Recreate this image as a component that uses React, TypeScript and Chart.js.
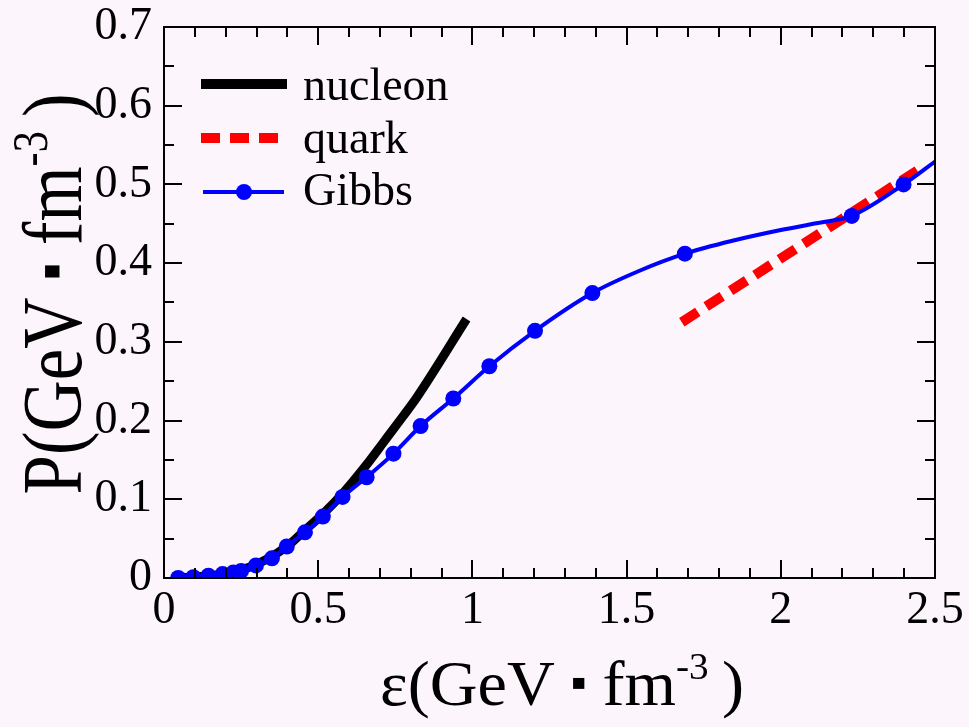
import React, { useEffect, useRef } from "react";
import { Chart, registerables } from "chart.js";

Chart.register(...registerables);

// ---------- data ----------
const nucleonE = [0.04, 0.171, 0.279, 0.398, 0.452, 0.517, 0.581, 0.657, 0.711, 0.776, 0.819, 0.981];
const nucleonP = [0.0, 0.004, 0.014, 0.04, 0.059, 0.082, 0.108, 0.144, 0.172, 0.206, 0.229, 0.329];

const quarkE = [1.679, 2.46];
const quarkP = [0.325, 0.522];

// Gibbs markers
const gibbsMarkE = [0.046, 0.095, 0.144, 0.19, 0.225, 0.25, 0.298, 0.35, 0.398, 0.457, 0.515, 0.579, 0.657, 0.744, 0.832, 0.938, 1.055, 1.203, 1.389, 1.689, 2.23, 2.398];
const gibbsMarkP = [0.0, 0.001, 0.003, 0.005, 0.007, 0.009, 0.016, 0.025, 0.04, 0.058, 0.078, 0.103, 0.128, 0.158, 0.193, 0.228, 0.269, 0.314, 0.362, 0.412, 0.46, 0.5];

const gibbsLineE = [0.046, 0.095, 0.144, 0.19, 0.225, 0.25, 0.298, 0.35, 0.398, 0.457, 0.515, 0.579, 0.657, 0.744, 0.832, 0.938, 1.055, 1.203, 1.389, 1.54, 1.689, 1.85, 2.0, 2.12, 2.23, 2.398, 2.5];
const gibbsLineP = [0.0, 0.001, 0.003, 0.005, 0.007, 0.009, 0.016, 0.025, 0.04, 0.058, 0.078, 0.103, 0.128, 0.158, 0.193, 0.228, 0.269, 0.314, 0.362, 0.39, 0.412, 0.429, 0.442, 0.451, 0.46, 0.5, 0.529];

const xTickValues = [0, 0.5, 1, 1.5, 2, 2.5];
const xTickLabels = ["0", "0.5", "1", "1.5", "2", "2.5"];
const yTickValues = [0, 0.1, 0.2, 0.3, 0.4, 0.5, 0.6, 0.7];
const yTickLabels = ["0", "0.1", "0.2", "0.3", "0.4", "0.5", "0.6", "0.7"];
const xMinorStep = 0.1;
const yMinorStep = 0.05;

const seriesLabels = ["nucleon", "quark", "Gibbs"];
const xTitleParts = { main: "ε(GeV", dot: "▪", unit: "fm", sup: "-3", close: ")" };
const yTitleParts = { main: "P(GeV", dot: "▪", unit: "fm", sup: "-3", close: ")" };

// ---------- styles ----------
const SERIF = '"Liberation Serif", "Times New Roman", Times, serif';
const DOTFONT = '"DejaVu Sans", "Liberation Serif", sans-serif';
const BG = "#fcf5fc";
const BLUE = "#0000ff";
const RED = "#ff0000";

const W = 969;
const H = 727;

function toPoints(xs: number[], ys: number[]) {
  return xs.map((x, i) => ({ x, y: ys[i] }));
}

function drawTitle(
  ctx: CanvasRenderingContext2D,
  parts: { main: string; dot: string; unit: string; sup: string; close: string },
  size: number,
  targetWidth: number
) {
  const f = `${size}px ${SERIF}`;
  const fs = `${Math.round(size * 0.6)}px ${SERIF}`;
  // size the square dot so that it is ~0.17em tall
  ctx.font = `100px ${DOTFONT}`;
  const m100 = ctx.measureText(parts.dot);
  const h100 = Math.max(1, m100.actualBoundingBoxAscent + m100.actualBoundingBoxDescent);
  const dotPx = Math.round((100 * size * 0.17) / h100);
  const fd = `${dotPx}px ${DOTFONT}`;
  ctx.font = fd;
  const md = ctx.measureText(parts.dot);
  const dAsc = md.actualBoundingBoxAscent;
  const dDesc = md.actualBoundingBoxDescent;
  const dLeft = md.actualBoundingBoxLeft;
  const dInkW = md.actualBoundingBoxLeft + md.actualBoundingBoxRight;

  ctx.font = f;
  const wMain = ctx.measureText(parts.main).width;
  const wSp = ctx.measureText(" ").width * 1.1;
  const wUnit = ctx.measureText(parts.unit).width;
  const wClose = ctx.measureText(parts.close).width;
  ctx.font = fs;
  const wSup = ctx.measureText(parts.sup).width;
  const gap = size * 0.2;
  const total = wMain + wSp + dInkW + wSp + wUnit + wSup + gap + wClose;
  const sx = targetWidth / total;
  ctx.scale(sx, 1);
  let x = -total / 2;
  ctx.textAlign = "left";
  ctx.textBaseline = "alphabetic";
  ctx.fillStyle = "#000";
  ctx.font = f;
  ctx.fillText(parts.main, x, 0);
  x += wMain + wSp;
  ctx.font = fd;
  const centerY = -size * 0.34;
  ctx.fillText(parts.dot, x + dLeft, centerY + (dAsc - dDesc) / 2);
  x += dInkW + wSp;
  ctx.font = f;
  ctx.fillText(parts.unit, x, 0);
  x += wUnit;
  ctx.font = fs;
  ctx.fillText(parts.sup, x, -size * 0.4);
  x += wSup + gap;
  ctx.font = f;
  ctx.fillText(parts.close, x, 0);
}

const bgPlugin = {
  id: "bgFill",
  beforeDraw(chart: any) {
    const ctx = chart.ctx;
    ctx.save();
    ctx.fillStyle = BG;
    ctx.fillRect(0, 0, chart.width, chart.height);
    ctx.restore();
  },
};

const framePlugin = {
  id: "frameTicks",
  afterDatasetsDraw(chart: any) {
    const ctx: CanvasRenderingContext2D = chart.ctx;
    const { left, right, top, bottom } = chart.chartArea;
    const xs = chart.scales.x;
    const ys = chart.scales.y;
    ctx.save();
    ctx.strokeStyle = "#000";
    ctx.lineWidth = 2;
    ctx.lineCap = "butt";
    ctx.beginPath();
    ctx.rect(left, top, right - left, bottom - top);
    ctx.stroke();
    const major = 18;
    const minor = 10;
    const nx = Math.round((xs.max - xs.min) / xMinorStep);
    const perMajorX = Math.round(0.5 / xMinorStep);
    ctx.beginPath();
    for (let i = 0; i <= nx; i++) {
      const v = xs.min + i * xMinorStep;
      const px = Math.round(xs.getPixelForValue(v));
      const L = i % perMajorX === 0 ? major : minor;
      ctx.moveTo(px, bottom);
      ctx.lineTo(px, bottom - L);
      ctx.moveTo(px, top);
      ctx.lineTo(px, top + L);
    }
    const ny = Math.round((ys.max - ys.min) / yMinorStep);
    const perMajorY = Math.round(0.1 / yMinorStep);
    for (let i = 0; i <= ny; i++) {
      const v = ys.min + i * yMinorStep;
      const py = Math.round(ys.getPixelForValue(v));
      const L = i % perMajorY === 0 ? major : minor;
      ctx.moveTo(left, py);
      ctx.lineTo(left + L, py);
      ctx.moveTo(right, py);
      ctx.lineTo(right - L, py);
    }
    ctx.stroke();
    ctx.restore();
  },
  afterDraw(chart: any) {
    const ctx: CanvasRenderingContext2D = chart.ctx;
    ctx.save();
    // legend
    const lx0 = 201;
    const lx1 = 287;
    const tx = 303;
    const rows = [84, 138, 192];
    const ds = chart.data.datasets;
    ctx.font = `46px ${SERIF}`;
    ctx.textBaseline = "alphabetic";
    ctx.textAlign = "left";
    ctx.fillStyle = "#000";
    // nucleon
    ctx.strokeStyle = ds[0].borderColor;
    ctx.lineWidth = 10;
    ctx.setLineDash([]);
    ctx.beginPath();
    ctx.moveTo(lx0, rows[0]);
    ctx.lineTo(lx1, rows[0]);
    ctx.stroke();
    ctx.fillText(ds[0].label, tx, rows[0] + 16);
    // quark
    ctx.strokeStyle = ds[1].borderColor;
    ctx.lineWidth = ds[1].borderWidth;
    ctx.setLineDash(ds[1].borderDash);
    ctx.beginPath();
    ctx.moveTo(lx0, rows[1]);
    ctx.lineTo(lx0 + 79, rows[1]);
    ctx.stroke();
    ctx.setLineDash([]);
    ctx.fillText(ds[1].label, tx, rows[1] + 15);
    // gibbs
    ctx.strokeStyle = ds[2].borderColor;
    ctx.lineWidth = ds[2].borderWidth;
    ctx.beginPath();
    ctx.moveTo(lx0 + 2, rows[2]);
    ctx.lineTo(lx1 - 3, rows[2]);
    ctx.stroke();
    ctx.fillStyle = BLUE;
    ctx.beginPath();
    ctx.arc((lx0 + lx1) / 2, rows[2], 8, 0, Math.PI * 2);
    ctx.fill();
    ctx.fillStyle = "#000";
    ctx.fillText(ds[2].label, tx, rows[2] + 13);

    // axis titles
    ctx.save();
    ctx.translate(562, 705);
    drawTitle(ctx, xTitleParts, 64, 364);
    ctx.restore();

    ctx.save();
    ctx.translate(81, 294);
    ctx.rotate(-Math.PI / 2);
    drawTitle(ctx, yTitleParts, 84, 401);
    ctx.restore();

    ctx.restore();
  },
};

export default function App() {
  const ref = useRef<HTMLCanvasElement | null>(null);

  useEffect(() => {
    if (!ref.current) return;
    const chart = new Chart(ref.current, {
      type: "line",
      data: {
        datasets: [
          {
            label: seriesLabels[0],
            data: toPoints(nucleonE, nucleonP),
            borderColor: "#000000",
            backgroundColor: "#000000",
            borderWidth: 9,
            pointRadius: 0,
            cubicInterpolationMode: "monotone",
            fill: false,
            order: 3,
          },
          {
            label: seriesLabels[1],
            data: toPoints(quarkE, quarkP),
            borderColor: RED,
            backgroundColor: RED,
            borderWidth: 10,
            borderDash: [19, 10],
            borderCapStyle: "butt",
            pointRadius: 0,
            fill: false,
            order: 2,
          },
          {
            label: seriesLabels[2],
            data: toPoints(gibbsLineE, gibbsLineP),
            borderColor: BLUE,
            backgroundColor: BLUE,
            borderWidth: 4,
            pointRadius: 0,
            cubicInterpolationMode: "monotone",
            fill: false,
            order: 1,
          },
          {
            label: seriesLabels[2] + " markers",
            data: toPoints(gibbsMarkE, gibbsMarkP),
            showLine: false,
            borderColor: BLUE,
            backgroundColor: BLUE,
            pointRadius: 8,
            pointBorderWidth: 0,
            pointBackgroundColor: BLUE,
            order: 0,
          },
        ],
      },
      options: {
        responsive: false,
        maintainAspectRatio: false,
        animation: false,
        events: [],
        layout: { padding: { left: 0, top: 27, right: 34, bottom: 0 } },
        plugins: {
          legend: { display: false },
          tooltip: { enabled: false },
          title: { display: false },
        },
        scales: {
          x: {
            type: "linear",
            min: 0,
            max: 2.5,
            afterBuildTicks: (s: any) => {
              s.ticks = xTickValues.map((v) => ({ value: v }));
            },
            afterFit: (s: any) => {
              s.height = H - 578;
            },
            ticks: {
              padding: 5,
              color: "#000",
              maxRotation: 0,
              autoSkip: false,
              font: { family: SERIF, size: 46 },
              callback: (v: any) => {
                const i = xTickValues.findIndex((t) => Math.abs(t - v) < 1e-9);
                return i >= 0 ? xTickLabels[i] : "";
              },
            },
            grid: { display: false, drawTicks: false },
            border: { display: false },
          },
          y: {
            type: "linear",
            min: 0,
            max: 0.7,
            afterBuildTicks: (s: any) => {
              s.ticks = yTickValues.map((v) => ({ value: v }));
            },
            afterFit: (s: any) => {
              s.width = 164;
            },
            ticks: {
              padding: 12,
              color: "#000",
              autoSkip: false,
              font: { family: SERIF, size: 46, lineHeight: 0.5 },
              callback: (v: any) => {
                const i = yTickValues.findIndex((t) => Math.abs(t - v) < 1e-9);
                return i >= 0 ? yTickLabels[i] : "";
              },
            },
            grid: { display: false, drawTicks: false },
            border: { display: false },
          },
        },
      },
      plugins: [bgPlugin, framePlugin],
    } as any);
    return () => chart.destroy();
  }, []);

  return (
    <div style={{ position: "fixed", left: 0, top: 0, width: W, height: H, background: BG }}>
      <canvas ref={ref} width={W} height={H} style={{ display: "block", width: W, height: H }} />
    </div>
  );
}
